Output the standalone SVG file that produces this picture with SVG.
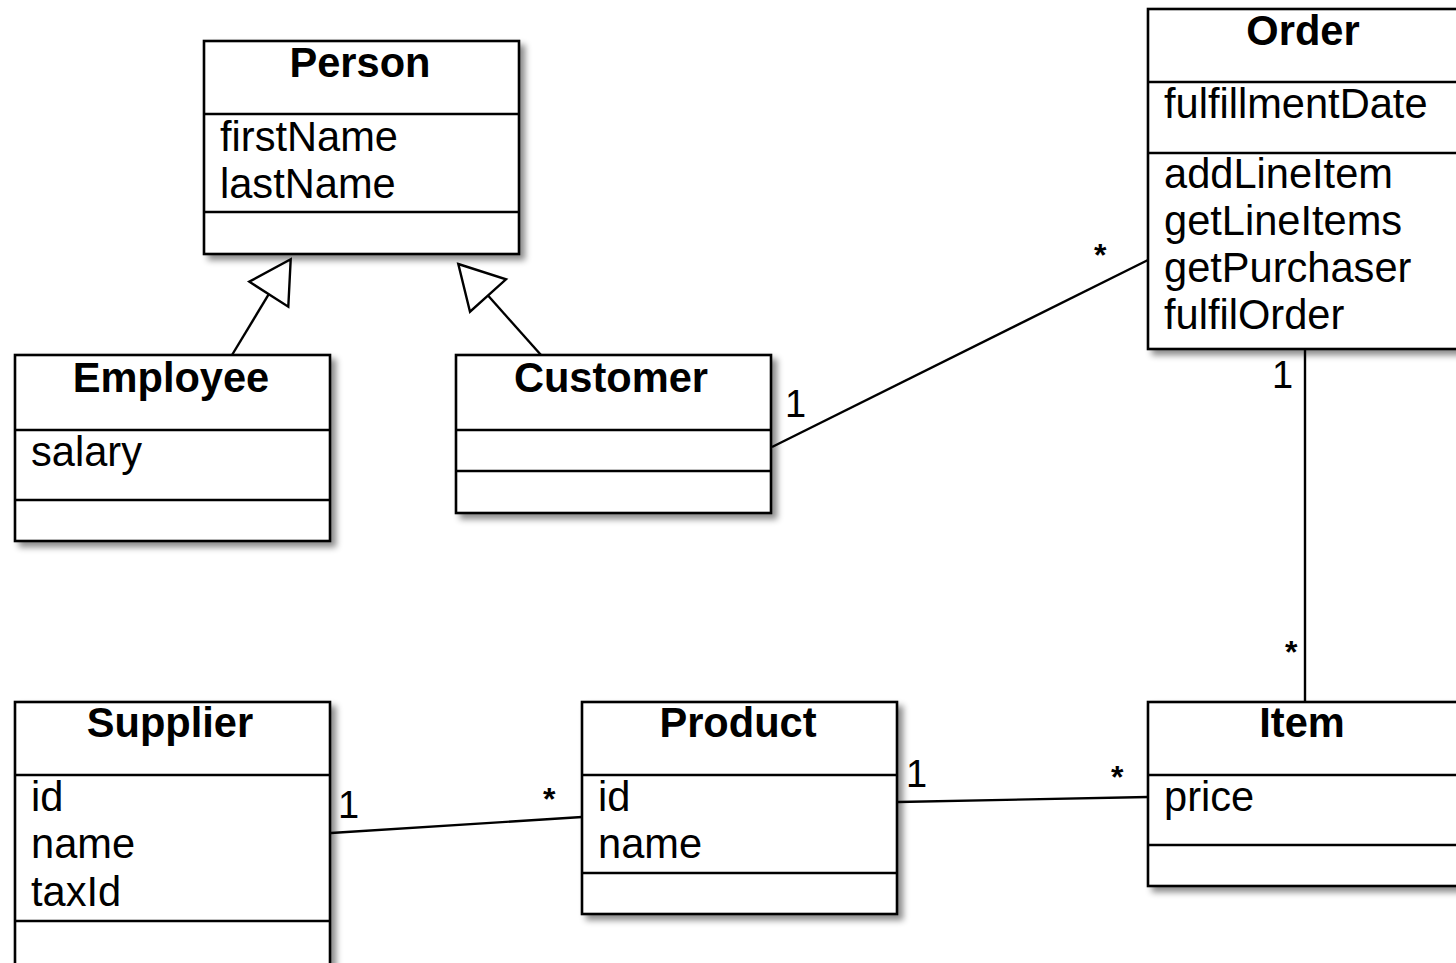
<svg xmlns="http://www.w3.org/2000/svg" width="1456" height="963" viewBox="0 0 1456 963">
<defs>
<filter id="sh" x="-10%" y="-10%" width="130%" height="130%">
<feDropShadow dx="5" dy="5" stdDeviation="3" flood-color="#000" flood-opacity="0.45"/>
</filter>
<style>
.box{fill:#fff;stroke:#000;stroke-width:2.6;filter:url(#sh)}
.div{stroke:#000;stroke-width:2.6;fill:none}
.t{font-family:"Liberation Sans",Arial,Helvetica,sans-serif;font-size:41.6px;fill:#000}
.b{font-weight:bold;text-anchor:middle}
.m{font-family:"Liberation Sans",Arial,Helvetica,sans-serif;font-size:38px;fill:#000}
.s{font-family:"Liberation Sans",Arial,Helvetica,sans-serif;font-size:32px;font-weight:bold;fill:#000}
.ln{stroke:#000;stroke-width:2.4;fill:none}
.tri{fill:#fff;stroke:#000;stroke-width:2.4;stroke-linejoin:miter}
</style>
</defs>
<rect width="1456" height="963" fill="#fff"/>

<g id="connectors">
<line class="ln" x1="232" y1="355" x2="268.8" y2="294.2"/>
<polygon class="tri" points="290.7,259.3 249.3,281.7 288.3,306.7"/>
<line class="ln" x1="541" y1="355" x2="488" y2="295.5"/>
<polygon class="tri" points="458.3,264 506,279.3 470,311.7"/>
<line class="ln" x1="772" y1="447" x2="1148" y2="260"/>
<line class="ln" x1="1305" y1="349" x2="1305" y2="702"/>
<line class="ln" x1="331" y1="833" x2="582" y2="817"/>
<line class="ln" x1="898" y1="802" x2="1148" y2="797"/>
<text class="m" x="785" y="417">1</text>
<text class="s" x="1094" y="266">*</text>
<text class="m" x="1272" y="388">1</text>
<text class="s" x="1285" y="663">*</text>
<text class="m" x="338" y="818">1</text>
<text class="s" x="543" y="810">*</text>
<text class="m" x="906" y="787">1</text>
<text class="s" x="1111" y="788">*</text>
</g>

<g id="Person">
<rect class="box" x="204" y="41" width="315" height="213"/>
<line class="div" x1="204" y1="114" x2="519" y2="114"/>
<line class="div" x1="204" y1="212" x2="519" y2="212"/>
<text class="t b" x="360" y="77">Person</text>
<text class="t" x="220" y="151">firstName</text>
<text class="t" x="220" y="198">lastName</text>
</g>

<g id="Employee">
<rect class="box" x="15" y="355" width="315" height="186"/>
<line class="div" x1="15" y1="430" x2="330" y2="430"/>
<line class="div" x1="15" y1="500" x2="330" y2="500"/>
<text class="t b" x="171" y="392">Employee</text>
<text class="t" x="31" y="466">salary</text>
</g>

<g id="Customer">
<rect class="box" x="456" y="355" width="315" height="158"/>
<line class="div" x1="456" y1="430" x2="771" y2="430"/>
<line class="div" x1="456" y1="471" x2="771" y2="471"/>
<text class="t b" x="611" y="392">Customer</text>
</g>

<g id="Order">
<rect class="box" x="1148" y="9" width="312" height="340"/>
<line class="div" x1="1148" y1="82" x2="1460" y2="82"/>
<line class="div" x1="1148" y1="153" x2="1460" y2="153"/>
<text class="t b" x="1303" y="45">Order</text>
<text class="t" x="1164" y="118">fulfillmentDate</text>
<text class="t" x="1164" y="188">addLineItem</text>
<text class="t" x="1164" y="235">getLineItems</text>
<text class="t" x="1164" y="282">getPurchaser</text>
<text class="t" x="1164" y="329">fulfilOrder</text>
</g>

<g id="Supplier">
<rect class="box" x="15" y="702" width="315" height="280"/>
<line class="div" x1="15" y1="775" x2="330" y2="775"/>
<line class="div" x1="15" y1="921" x2="330" y2="921"/>
<text class="t b" x="170" y="737">Supplier</text>
<text class="t" x="31" y="811">id</text>
<text class="t" x="31" y="858">name</text>
<text class="t" x="31" y="906">taxId</text>
</g>

<g id="Product">
<rect class="box" x="582" y="702" width="315" height="212"/>
<line class="div" x1="582" y1="775" x2="897" y2="775"/>
<line class="div" x1="582" y1="873" x2="897" y2="873"/>
<text class="t b" x="738" y="737">Product</text>
<text class="t" x="598" y="811">id</text>
<text class="t" x="598" y="858">name</text>
</g>

<g id="Item">
<rect class="box" x="1148" y="702" width="312" height="184"/>
<line class="div" x1="1148" y1="775" x2="1460" y2="775"/>
<line class="div" x1="1148" y1="845" x2="1460" y2="845"/>
<text class="t b" x="1302" y="737">Item</text>
<text class="t" x="1164" y="811">price</text>
</g>
</svg>
